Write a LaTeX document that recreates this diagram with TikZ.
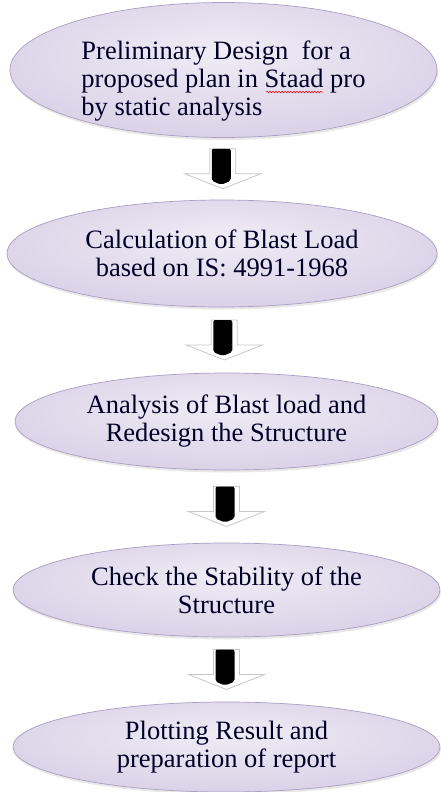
\documentclass[tikz,border=0pt]{standalone}
\usepackage{fontspec}
\setmainfont{Liberation Serif}
\usetikzlibrary{shapes.geometric,calc,shadows,decorations.pathmorphing}

\definecolor{stagelight}{HTML}{EFECF5}
\definecolor{stagemid}{HTML}{DAD3E8}
\definecolor{stagedark}{HTML}{BCB1D3}
\definecolor{stageline}{HTML}{A99FC2}
\pgfdeclareradialshading{stageshade}{\pgfpoint{0bp}{8bp}}{color(0bp)=(stagelight); color(28bp)=(stagemid); color(50bp)=(stagedark)}

\tikzset{
  stage/.style={ellipse, inner sep=0pt, shading=stageshade, draw=stageline, line width=0.7pt,
    drop shadow={opacity=0.18, shadow xshift=1pt, shadow yshift=-2.5pt},
    font=\fontsize{26.5}{28}\selectfont, text=black!85!blue, align=center},
  downarrow/.pic={
    \filldraw[fill=white, draw=black!22, line width=0.8pt]
      (-13,-20) -- (13,-20) -- (13,5) -- (38,5) -- (0,20) -- (-38,5) -- (-13,5) -- cycle;
    \fill[black, rounded corners=2pt] (-11,12) -- (-11,-20) -- (8,-20) -- (8,12) -- (-1.5,16) -- cycle;
  }
}

\begin{document}
\begin{tikzpicture}[x=1pt,y=-1pt]
  \useasboundingbox[fill=white] (0,0) rectangle (441,792);

  % process stages
  \node[stage, minimum width=427, minimum height=135] (design) at (223.5,70)
    {\raisebox{-12pt}[\height][\depth]{\begin{tabular}{@{}l@{}}
      Preliminary Design\ \ for a\\ proposed plan in Staad pro\\ by static analysis\end{tabular}}};
  \node[stage, minimum width=430, minimum height=107] (blast) at (222,253.5)
    {Calculation of Blast Load\\ based on IS: 4991-1968};
  \node[stage, minimum width=423, minimum height=97] (redesign) at (226.5,421.5)
    {Analysis of Blast load and\\ Redesign the Structure};
  \node[stage, minimum width=427, minimum height=94] (check) at (226.5,590)
    {Check the Stability of the\\ Structure};
  \node[stage, minimum width=427, minimum height=90] (report) at (226.5,747)
    {Plotting Result and\\ preparation of report};

  % spell check mark
  \draw[red, line width=0.5pt, decorate, decoration={snake, amplitude=0.8pt, segment length=3pt}]
    (266,92) -- (323,92);

  % arrows between stages
  \pic at ($(design.south)!0.5!(blast.north)$) {downarrow};
  \pic at ($(blast.south)!0.5!(redesign.north)$) {downarrow};
  \pic at ($(redesign.south)!0.5!(check.north)$) {downarrow};
  \pic at ($(check.south)!0.5!(report.north)$) {downarrow};
\end{tikzpicture}
\end{document}
